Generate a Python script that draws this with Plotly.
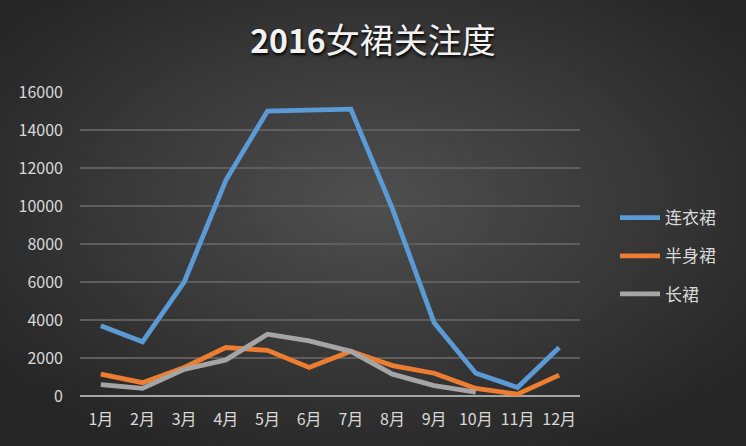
import plotly.graph_objects as go
import urllib.parse

months = ["1月", "2月", "3月", "4月", "5月", "6月", "7月", "8月", "9月", "10月", "11月", "12月"]
lianyiqun = [3700, 2850, 6000, 11350, 15000, 15050, 15100, 9850, 3850, 1200, 450, 2550]
banshenqun = [1150, 700, 1500, 2550, 2400, 1500, 2350, 1600, 1200, 400, 100, 1100]
changqun = [600, 400, 1400, 1900, 3250, 2900, 2350, 1150, 550, 200, None, None]
y_ticks = [0, 2000, 4000, 6000, 8000, 10000, 12000, 14000, 16000]

W, H = 746, 446
svg = f'''<svg xmlns="http://www.w3.org/2000/svg" width="{W}" height="{H}" viewBox="0 0 {W} {H}">
<defs><radialGradient id="g" cx="0.5" cy="0.45" r="0.62">
<stop offset="0" stop-color="#4f4f4f"/><stop offset="1" stop-color="#262626"/></radialGradient></defs>
<rect width="{W}" height="{H}" fill="url(#g)"/></svg>'''
bg = "data:image/svg+xml;charset=utf-8," + urllib.parse.quote(svg)

FONT = "Noto Sans CJK SC"
fig = go.Figure()
series = [("连衣裙", lianyiqun, "#5B9BD5"), ("半身裙", banshenqun, "#ED7D31"), ("长裙", changqun, "#A5A5A5")]
for i, (name, vals, col) in enumerate(series):
    fig.add_trace(go.Scatter(x=months, y=vals, name=name, mode="lines",
                             line=dict(color=col, width=4.8), legendgroup=f"g{i}",
                             connectgaps=False))

fig.update_layout(
    width=W, height=H,
    margin=dict(l=80, r=166, t=92, b=50),
    paper_bgcolor="#333333", plot_bgcolor="rgba(0,0,0,0)",
    images=[dict(source=bg, xref="paper", yref="paper", x=-80/500, y=1+92/304,
                 sizex=W/500, sizey=H/304, xanchor="left", yanchor="top",
                 sizing="stretch", layer="below")],
    title=dict(text="<b>2016</b><span style='font-size:34px'>女裙关注度</span>", x=0.5,
               xref="container", xanchor="center",
               y=1 - 42/H, yanchor="middle",
               font=dict(family=FONT, size=32, color="#f2f2f2", shadow="1px 2px 3px #000000")),
    font=dict(family=FONT, color="#d9d9d9"),
    showlegend=True,
    legend=dict(x=1.07, xanchor="left", y=0.46, yanchor="middle", traceorder="grouped",
                tracegroupgap=13, font=dict(family=FONT, size=17, color="#d9d9d9"),
                bgcolor="rgba(0,0,0,0)", itemwidth=40),
    xaxis=dict(type="category", categoryorder="array", categoryarray=months,
               range=[-0.5, 11.5],
               showgrid=False, showline=False, zeroline=False, ticklabelstandoff=12,
               tickfont=dict(family=FONT, size=16, color="#d9d9d9"),
               ticks="", fixedrange=True),
    yaxis=dict(range=[0, 16000], tickvals=y_ticks, ticktext=[str(v) for v in y_ticks],
               showgrid=True, gridcolor="#5e5e5e", gridwidth=1.5,
               zeroline=True, zerolinecolor="#a6a6a6", zerolinewidth=2,
               showline=False, ticks="", ticklabelstandoff=16, fixedrange=True,
               tickfont=dict(family=FONT, size=16, color="#d9d9d9")),
)
fig.write_html("out.html", config={"displayModeBar": False},
               post_script="document.body.style.margin='0';document.body.style.overflow='hidden';")
